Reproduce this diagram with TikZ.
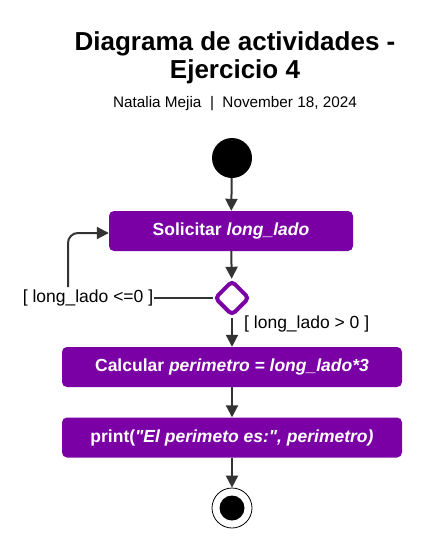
\documentclass[tikz,border=0pt]{standalone}
\usepackage{fontspec}
\setmainfont{Liberation Sans}[Ligatures=TeXOff]
\usetikzlibrary{shapes.geometric,arrows.meta}
\definecolor{umlpurple}{RGB}{122,0,166}
\definecolor{arrowgray}{RGB}{51,51,51}
\tikzset{
  actbox/.style={fill=umlpurple, rounded corners=5pt, text=white, font=\fontsize{17.5}{20}\selectfont\bfseries, inner sep=0pt, minimum height=40pt},
  flow/.style={draw=arrowgray, line width=2pt, -{Triangle[length=12pt,width=12pt]}},
  plainline/.style={draw=arrowgray, line width=2pt},
  guard/.style={font=\fontsize{17.5}{20}\selectfont, text=black, inner sep=1pt},
}
\begin{document}
\begin{tikzpicture}[x=1pt,y=-1pt]
\useasboundingbox (0,0) rectangle (432,549);
\node[font=\fontsize{26}{28.5}\selectfont\bfseries, align=center] (title) at (235,58) {Diagrama de actividades -\\Ejercicio 4};
\node[font=\fontsize{15.3}{18}\selectfont] (sub) at (235,104) {Natalia Mejia \ | \ November 18, 2024};
\node[circle, fill=black, minimum size=40pt, inner sep=0pt] (start) at (232,158) {};
\node[actbox, minimum width=244pt] (b1) at (231,231) {Solicitar \textit{long\_lado}};
\node[diamond, draw=umlpurple, line width=4pt, fill=white, rounded corners=4pt, minimum width=35pt, minimum height=35pt, inner sep=0pt] (dec) at (232,298) {};
\node[guard] (gno) at (88,298) {[ long\_lado <=0 ]};
\node[guard, anchor=west] (gyes) at (243,324) {[ long\_lado > 0 ]};
\node[actbox, minimum width=340pt] (b2) at (232,367) {Calcular \textit{perimetro = long\_lado*3}};
\node[actbox, minimum width=340pt] (b3) at (232,437.5) {print(\textit{"El perimeto es:", perimetro)}};
\node[circle, draw=black, line width=0.8pt, fill=white, minimum size=40pt, inner sep=0pt] (endo) at (232,508) {};
\node[circle, fill=black, minimum size=25pt, inner sep=0pt] (endi) at (endo) {};
\coordinate (up) at (68,287);
\coordinate (b1in) at (b1.west |- 0,233);
\draw[flow] (start) -- (b1);
\draw[flow] (b1) -- (dec);
\draw[plainline] (dec.west) -- (gno.east);
\draw[flow, rounded corners=10pt] (up) |- (b1in);
\draw[flow] (dec) -- (b2);
\draw[flow] (b2) -- (b3);
\draw[flow] (b3) -- (endo);
\end{tikzpicture}
\end{document}
